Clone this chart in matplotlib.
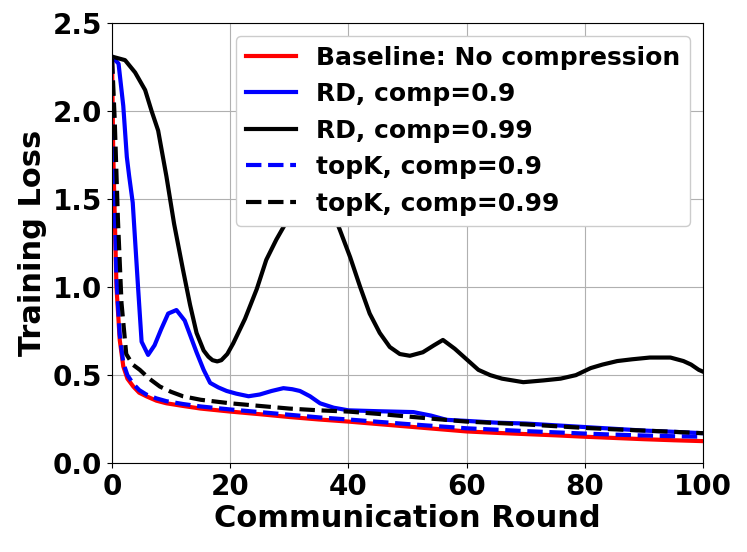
import numpy as np
import matplotlib
matplotlib.use('Agg')
import matplotlib.pyplot as plt

# Baseline: no compression
x_base = [0, 0.2, 0.75, 1.3, 1.9, 2.6, 3.6, 4.6, 5.8, 7.5, 9.2, 12, 15, 20, 25, 30, 35, 40,
          45, 50, 55, 60, 65, 70, 75, 80, 85, 90, 95, 100]
y_base = [2.30, 1.76, 1.00, 0.70, 0.55, 0.48, 0.435, 0.40, 0.38, 0.355, 0.34, 0.325, 0.31,
          0.293, 0.278, 0.262, 0.248, 0.236, 0.222, 0.208, 0.194, 0.18, 0.172, 0.165, 0.158,
          0.15, 0.143, 0.136, 0.13, 0.125]

# RD, comp=0.9
x_rd09 = [0, 1.1, 1.9, 2.5, 2.9, 3.5, 4.4, 5.0, 6.1, 7.2, 8.3, 9.5, 10.9, 12.3, 13.3, 14.3,
          15.5, 16.6, 18, 19.4, 21, 23.1, 25, 27, 29, 30.5, 31.8, 33.5, 35.2, 37.5, 40, 45,
          51, 54, 56.6, 60, 65, 70, 75, 80, 85, 90, 95, 100]
y_rd09 = [2.31, 2.27, 2.03, 1.74, 1.63, 1.48, 1.0, 0.69, 0.615, 0.67, 0.76, 0.85, 0.87, 0.81,
          0.72, 0.63, 0.53, 0.456, 0.43, 0.41, 0.395, 0.38, 0.39, 0.41, 0.426, 0.42, 0.41,
          0.38, 0.34, 0.315, 0.30, 0.295, 0.29, 0.27, 0.246, 0.24, 0.23, 0.225, 0.215, 0.205,
          0.195, 0.185, 0.178, 0.17]

# RD, comp=0.99
x_rd099 = [0, 2.2, 3.9, 5.6, 6.7, 7.8, 9.2, 10.5, 12, 13.2, 14.3, 15.5, 16.3, 17, 17.8, 18.5,
           19.5, 20.5, 22.5, 24.5, 26.1, 27.8, 29.5, 31.5, 33, 34.5, 36.5, 38.5, 40.3, 42,
           43.6, 45.3, 47, 48.7, 50.4, 52.6, 54.5, 56, 58, 60, 62, 64, 66, 69.6, 73, 75.9,
           78.5, 81, 83, 85.5, 88, 91, 94.5, 96.7, 98, 99.3, 100]
y_rd099 = [2.31, 2.29, 2.22, 2.12, 2.0, 1.89, 1.63, 1.36, 1.10, 0.90, 0.74, 0.64, 0.605, 0.585,
           0.578, 0.585, 0.62, 0.68, 0.82, 0.99, 1.155, 1.27, 1.37, 1.50, 1.56, 1.57, 1.50,
           1.33, 1.17, 1.00, 0.85, 0.74, 0.66, 0.62, 0.61, 0.63, 0.67, 0.70, 0.65, 0.59, 0.53,
           0.50, 0.48, 0.46, 0.47, 0.48, 0.50, 0.54, 0.56, 0.58, 0.59, 0.60, 0.60, 0.58, 0.56,
           0.53, 0.52]

# topK, comp=0.9
x_tk09 = [0, 0.2, 0.75, 1.3, 1.9, 2.6, 3.6, 4.6, 5.8, 7.5, 9.2, 12, 15, 20, 25, 30, 35, 40,
          45, 50, 55, 60, 65, 70, 75, 80, 85, 90, 95, 100]
y_tk09 = [2.30, 1.80, 1.05, 0.73, 0.57, 0.50, 0.45, 0.415, 0.39, 0.368, 0.352, 0.336, 0.322,
          0.305, 0.29, 0.275, 0.26, 0.248, 0.235, 0.222, 0.21, 0.198, 0.19, 0.182, 0.175,
          0.168, 0.162, 0.157, 0.153, 0.15]

# topK, comp=0.99
x_tk099 = [0, 0.45, 1.0, 1.6, 2.4, 3.5, 4.7, 6.3, 8.1, 10, 12, 15, 20, 25, 30, 35, 40, 45, 50,
           55, 60, 65, 70, 75, 80, 85, 90, 95, 100]
y_tk099 = [2.30, 1.95, 1.38, 0.91, 0.62, 0.56, 0.53, 0.48, 0.435, 0.405, 0.38, 0.36, 0.34,
           0.325, 0.31, 0.30, 0.293, 0.28, 0.265, 0.25, 0.236, 0.228, 0.22, 0.21, 0.2, 0.192,
           0.185, 0.178, 0.17]

plt.rcParams['font.weight'] = 'bold'
plt.rcParams['axes.labelweight'] = 'bold'

fig = plt.figure(figsize=(7.47, 5.52), dpi=100)
ax = fig.add_axes([0.150, 0.161, 0.791, 0.797])

lw = 3
ax.plot(x_base, y_base, color='red', lw=lw, label='Baseline: No compression')
ax.plot(x_rd09, y_rd09, color='blue', lw=lw, label='RD, comp=0.9')
ax.plot(x_rd099, y_rd099, color='black', lw=lw, label='RD, comp=0.99')
ax.plot(x_tk09, y_tk09, color='blue', lw=lw, ls='--', label='topK, comp=0.9')
ax.plot(x_tk099, y_tk099, color='black', lw=lw, ls='--', label='topK, comp=0.99')

ax.set_xlim(0, 100)
ax.set_ylim(0, 2.5)
ax.set_xticks(np.arange(0, 101, 20))
ax.set_yticks(np.arange(0, 2.51, 0.5))
ax.tick_params(labelsize=20)
ax.grid(True)
ax.set_xlabel('Communication Round', fontsize=22, labelpad=2)
ax.set_ylabel('Training Loss', fontsize=22)
ax.legend(loc='upper right', fontsize=18, framealpha=1)

fig.savefig('out.png', dpi=100)
